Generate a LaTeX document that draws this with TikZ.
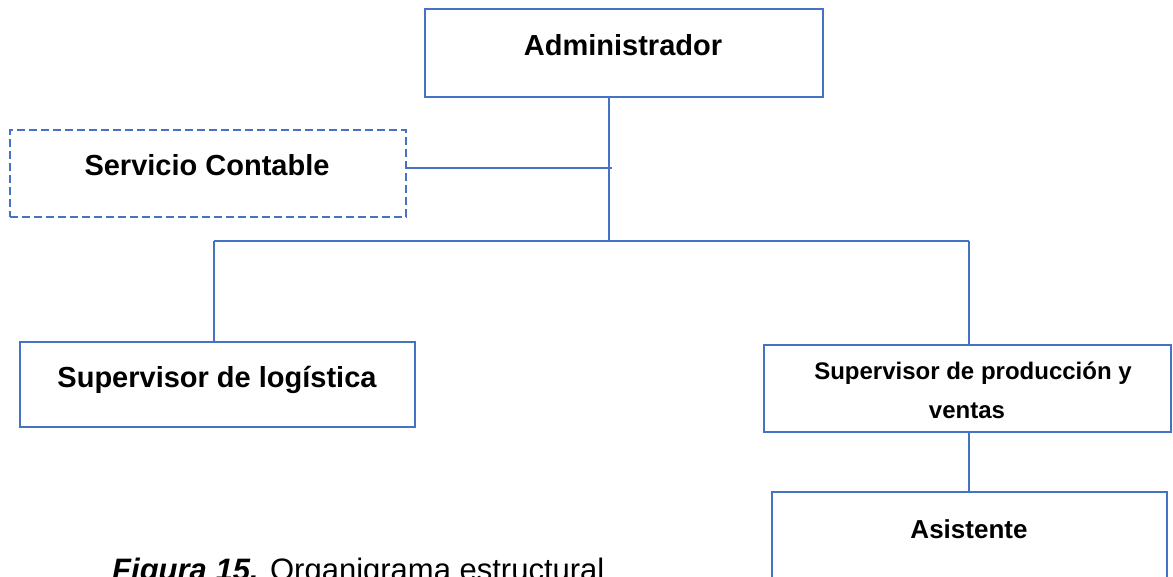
\documentclass[tikz,border=0pt]{standalone}
\usepackage{fontspec}
\setmainfont{Liberation Sans}
\usetikzlibrary{calc}
\definecolor{orgblue}{HTML}{4472C4}
\tikzset{
  box/.style={draw=orgblue, line width=2.4pt, inner sep=0pt, fill=white},
  dashbox/.style={box, line width=2.2pt, dash pattern=on 8pt off 4pt},
  link/.style={draw=orgblue, line width=1.5pt},
  lbl/.style={anchor=base, inner sep=0pt, font=\bfseries\fontsize{29}{35}\selectfont},
  smalllbl/.style={anchor=base, inner sep=0pt, font=\bfseries\fontsize{24}{29}\selectfont},
}
\newcommand{\boxat}[5]{% name, x1, y1, x2, y2
  \node[box, minimum width={#4-#2}, minimum height={#5-#3}] (#1) at ({(#2+#4)/2},{(#3+#5)/2}) {};}
\begin{document}
\begin{tikzpicture}[x=1pt, y=-1pt]
  \useasboundingbox (0,0) rectangle (1173,576);
  \clip (0,0) rectangle (1173,576);

  % boxes
  \boxat{adm}{425}{9}{823}{97}
  \node[dashbox, minimum width=396, minimum height=87] (sc) at (208,173.5) {};
  \boxat{log}{20}{342}{415}{427}
  \boxat{prod}{764}{345}{1171}{432}
  \boxat{asis}{772}{492}{1167}{590}

  % labels
  \node[lbl] (admtxt) at (623,55) {Administrador};
  \node[lbl] (sctxt) at (207,175) {Servicio Contable};
  \node[lbl] (logtxt) at (217,387) {Supervisor de logística};
  \node[smalllbl] (prodtxt1) at (973,379) {Supervisor de producción y};
  \node[smalllbl] (prodtxt2) at (967,418) {ventas};
  \node[smalllbl, font=\bfseries\fontsize{26}{31}\selectfont] (asistxt) at (969,538) {Asistente};

  % junction points
  \coordinate (trunk) at (609,241);
  \coordinate (sctap) at (612,168);
  \coordinate (busl) at (214,241);
  \coordinate (busr) at (969,241);

  % connectors
  \draw[link] (adm.south -| trunk) -- (trunk);
  \draw[link] (sc.east |- sctap) -- (sctap);
  \draw[link] (busl) -- (busr);
  \draw[link] (busl) -- (log.north -| busl);
  \draw[link] (busr) -- (prod.north -| busr);
  \draw[link] (prod.south -| busr) -- (asis.north -| busr);

  % caption
  \node[anchor=base west, inner sep=0pt, font=\fontsize{31}{37}\selectfont] (cap) at (112,580)
    {\textbf{\textit{Figura 15.}} Organigrama estructural};
\end{tikzpicture}
\end{document}
